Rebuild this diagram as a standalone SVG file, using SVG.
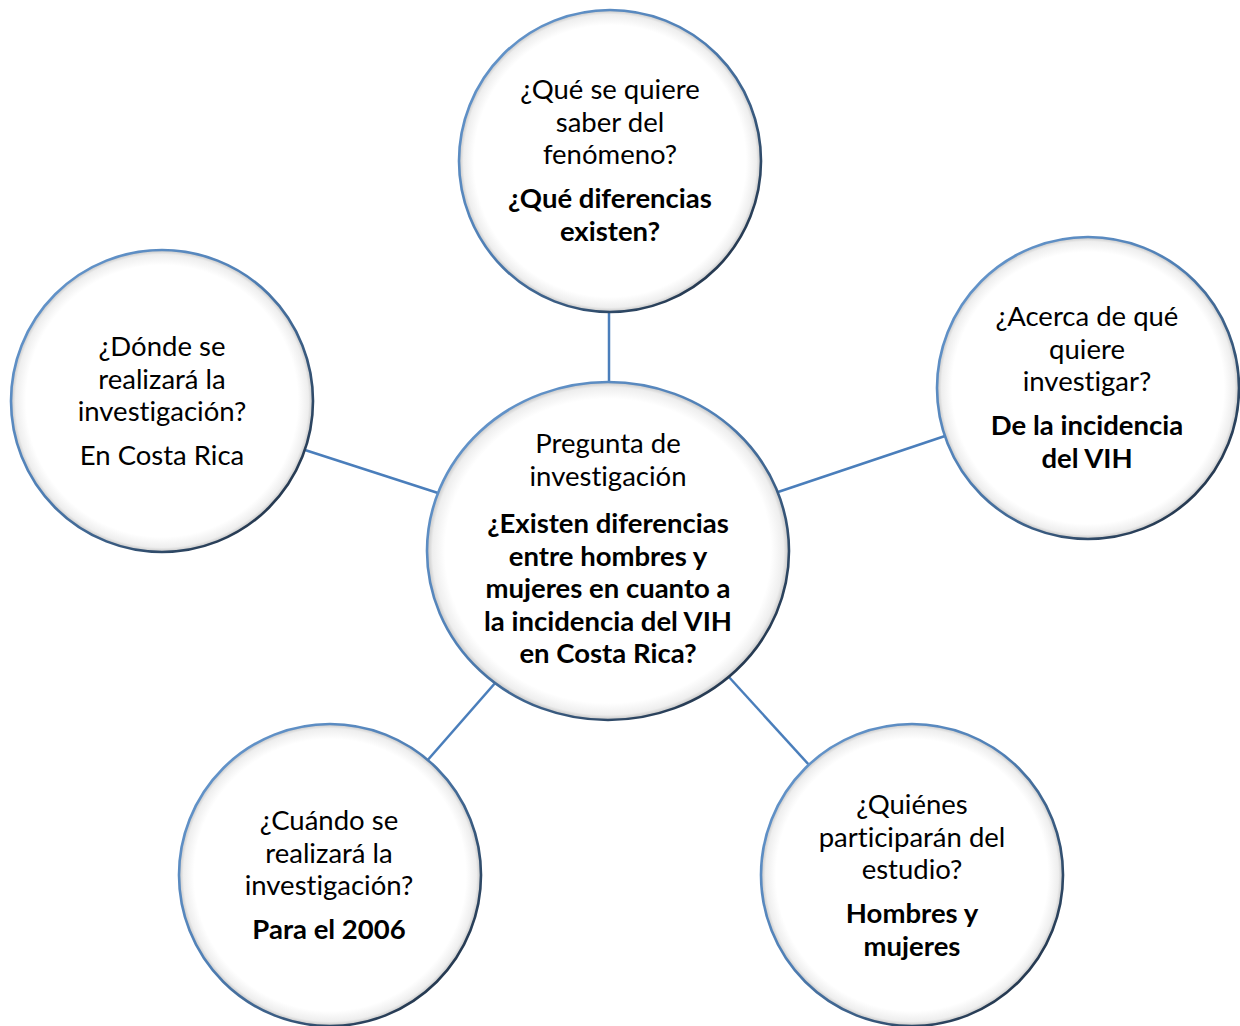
<svg xmlns="http://www.w3.org/2000/svg" width="1240" height="1026" viewBox="0 0 1240 1026">
<defs>
<linearGradient id="ring" x1="0" y1="0" x2="1" y2="1">
<stop offset="0" stop-color="#6a9bd1"/>
<stop offset="0.45" stop-color="#4f7fb5"/>
<stop offset="0.75" stop-color="#2f4a68"/>
<stop offset="1" stop-color="#1a2433"/>
</linearGradient>
<radialGradient id="fill" cx="0.5" cy="0.5" r="0.5">
<stop offset="0.9" stop-color="#ffffff"/>
<stop offset="0.97" stop-color="#eeeeee"/>
<stop offset="1" stop-color="#c4c4c4"/>
</radialGradient>
</defs>
<style>
.conn{stroke:#4a7ebb;stroke-width:2.5;fill:none}
.node{fill:url(#fill);stroke:url(#ring);stroke-width:2.6}
text{font-family:Lato,"Open Sans","Liberation Sans",sans-serif;font-size:27.5px;fill:#000;text-anchor:middle;font-variant-ligatures:none}
.b{font-weight:bold}
</style>
<rect width="1240" height="1026" fill="#ffffff"/>
<g id="connectors">
<line class="conn" x1="609" y1="310" x2="609" y2="384"/>
<line class="conn" x1="305" y1="450" x2="438" y2="493"/>
<line class="conn" x1="778" y1="492" x2="945" y2="436"/>
<line class="conn" x1="426" y1="762" x2="496" y2="682"/>
<line class="conn" x1="810" y1="766" x2="728" y2="676"/>
</g>
<g id="node-top">
<circle class="node" cx="610" cy="161" r="151"/>
<text x="610" y="99">¿Qué se quiere</text>
<text x="610" y="131.5">saber del</text>
<text x="610" y="164">fenómeno?</text>
<text class="b" x="610" y="208">¿Qué diferencias</text>
<text class="b" x="610" y="240.5">existen?</text>
</g>
<g id="node-center">
<ellipse class="node" cx="608" cy="551" rx="181" ry="169"/>
<text x="608" y="453">Pregunta de</text>
<text x="608" y="485.5">investigación</text>
<text class="b" x="608" y="533">¿Existen diferencias</text>
<text class="b" x="608" y="565.5">entre hombres y</text>
<text class="b" x="608" y="598">mujeres en cuanto a</text>
<text class="b" x="608" y="630.5">la incidencia del VIH</text>
<text class="b" x="608" y="663">en Costa Rica?</text>
</g>
<g id="node-left">
<circle class="node" cx="162" cy="401" r="151"/>
<text x="162" y="356">¿Dónde se</text>
<text x="162" y="388.5">realizará la</text>
<text x="162" y="421">investigación?</text>
<text x="162" y="465">En Costa Rica</text>
</g>
<g id="node-right">
<circle class="node" cx="1088" cy="388" r="151"/>
<text x="1087" y="326">¿Acerca de qué</text>
<text x="1087" y="358.5">quiere</text>
<text x="1087" y="391">investigar?</text>
<text class="b" x="1087" y="435">De la incidencia</text>
<text class="b" x="1087" y="467.5">del VIH</text>
</g>
<g id="node-bottom-left">
<circle class="node" cx="330" cy="875" r="151"/>
<text x="329" y="830">¿Cuándo se</text>
<text x="329" y="862.5">realizará la</text>
<text x="329" y="895">investigación?</text>
<text class="b" x="329" y="939">Para el 2006</text>
</g>
<g id="node-bottom-right">
<circle class="node" cx="912" cy="875" r="151"/>
<text x="912" y="814">¿Quiénes</text>
<text x="912" y="846.5">participarán del</text>
<text x="912" y="879">estudio?</text>
<text class="b" x="912" y="923">Hombres y</text>
<text class="b" x="912" y="955.5">mujeres</text>
</g>
</svg>
